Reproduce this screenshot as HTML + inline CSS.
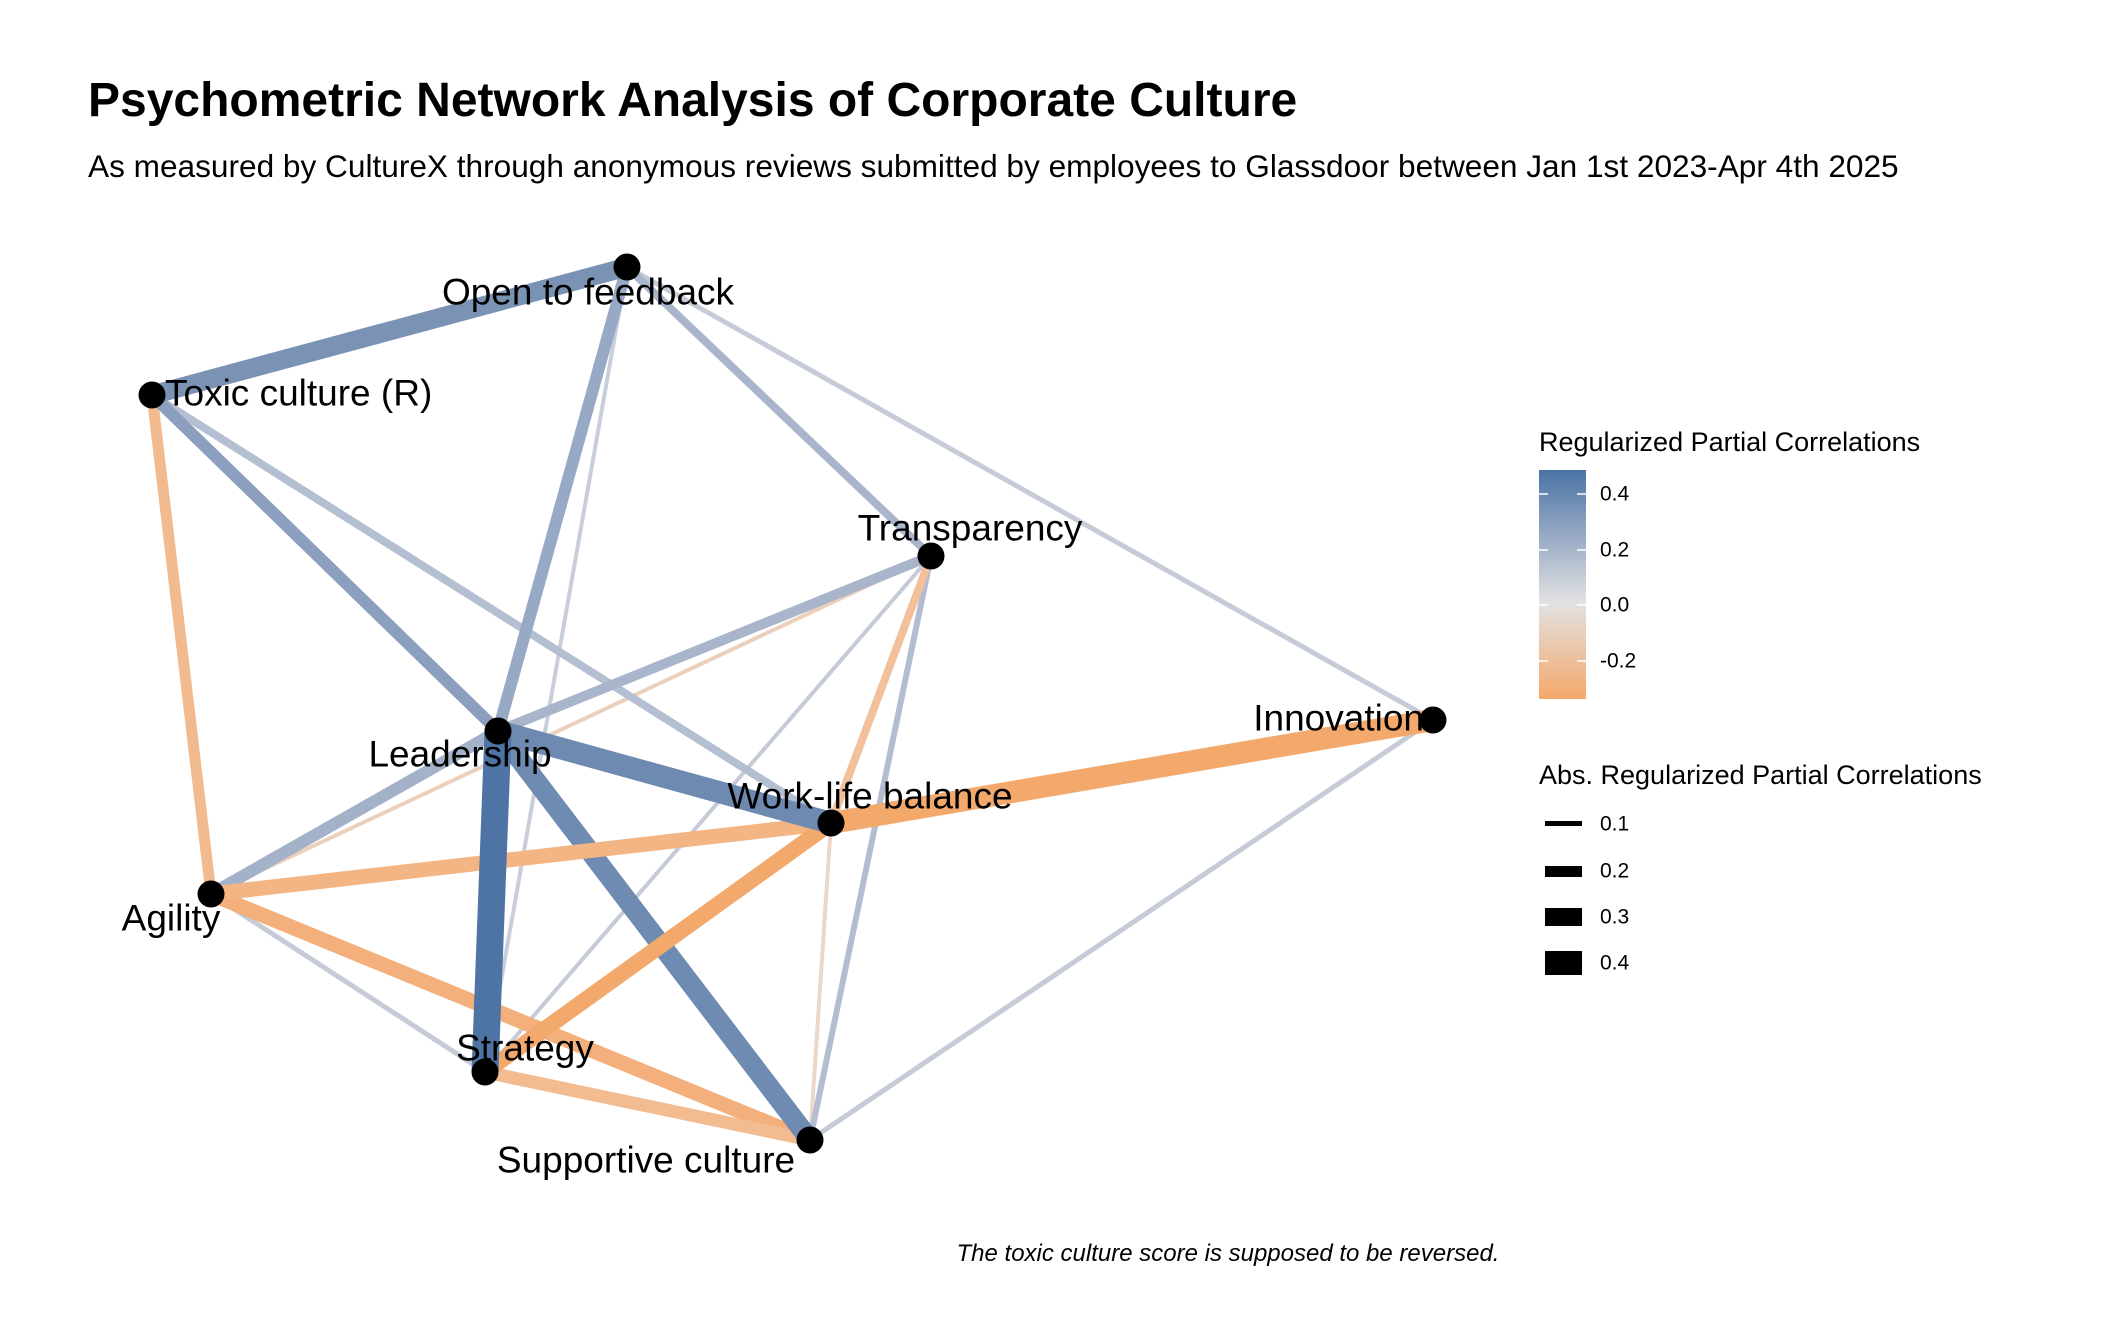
<!DOCTYPE html>
<html><head><meta charset="utf-8"><style>
html,body{margin:0;padding:0;background:#fff;}
svg{display:block;font-family:"Liberation Sans",Arial,sans-serif;}
</style></head><body>
<svg width="2112" height="1344" viewBox="0 0 2112 1344" xmlns="http://www.w3.org/2000/svg">
<defs>
<linearGradient id="cb" x1="0" y1="0" x2="0" y2="1">
<stop offset="0" stop-color="#4a74a5"/>
<stop offset="0.27" stop-color="#93a6c3"/>
<stop offset="0.58" stop-color="#e2e2e2"/>
<stop offset="1" stop-color="#f4a86a"/>
</linearGradient>
</defs>
<rect width="2112" height="1344" fill="#fff"/>
<text x="88" y="116" font-size="48" font-weight="bold" fill="#000">Psychometric Network Analysis of Corporate Culture</text>
<text x="88" y="177" font-size="31.6" fill="#000">As measured by CultureX through anonymous reviews submitted by employees to Glassdoor between Jan 1st 2023-Apr 4th 2025</text>

<g stroke-linecap="butt" fill="none">
<line x1="627" y1="267" x2="1433" y2="720" stroke="#c5cbd7" stroke-width="5"/>
<line x1="1433" y1="720" x2="810" y2="1140" stroke="#c5cbd7" stroke-width="5"/>
<line x1="627" y1="267" x2="485" y2="1072" stroke="#c8cfda" stroke-width="4"/>
<line x1="931" y1="556" x2="485" y2="1072" stroke="#c5cbd7" stroke-width="4"/>
<line x1="211" y1="894" x2="485" y2="1072" stroke="#c5cbd7" stroke-width="5"/>
<line x1="831" y1="823" x2="810" y2="1140" stroke="#ecd6c7" stroke-width="4"/>
<line x1="931" y1="556" x2="211" y2="894" stroke="#ecd0bc" stroke-width="4"/>
<line x1="627" y1="267" x2="931" y2="556" stroke="#a9b5cb" stroke-width="8"/>
<line x1="152" y1="395" x2="831" y2="823" stroke="#b4bfd1" stroke-width="8"/>
<line x1="931" y1="556" x2="810" y2="1140" stroke="#b3bdd0" stroke-width="6"/>
<line x1="152" y1="395" x2="211" y2="894" stroke="#f2bb8f" stroke-width="11"/>
<line x1="931" y1="556" x2="831" y2="823" stroke="#f2c19c" stroke-width="8"/>
<line x1="931" y1="556" x2="498" y2="731" stroke="#a9b5cb" stroke-width="10"/>
<line x1="498" y1="731" x2="211" y2="894" stroke="#a3b1c9" stroke-width="12"/>
<line x1="152" y1="395" x2="498" y2="731" stroke="#8c9fbf" stroke-width="12"/>
<line x1="627" y1="267" x2="498" y2="731" stroke="#98a9c6" stroke-width="12"/>
<line x1="627" y1="267" x2="152" y2="395" stroke="#7a93b5" stroke-width="19"/>
<line x1="211" y1="894" x2="810" y2="1140" stroke="#f3b07c" stroke-width="15"/>
<line x1="485" y1="1072" x2="810" y2="1140" stroke="#f3bb90" stroke-width="13"/>
<line x1="498" y1="731" x2="810" y2="1140" stroke="#6f8bb1" stroke-width="20"/>
<line x1="211" y1="894" x2="831" y2="823" stroke="#f3b584" stroke-width="15"/>
<line x1="831" y1="823" x2="485" y2="1072" stroke="#f3a96c" stroke-width="16"/>
<line x1="498" y1="731" x2="831" y2="823" stroke="#6f8ab0" stroke-width="22"/>
<line x1="1433" y1="720" x2="831" y2="823" stroke="#f3a96c" stroke-width="22"/>
<line x1="498" y1="731" x2="485" y2="1072" stroke="#4d74a4" stroke-width="27"/>
</g>

<g fill="#000">
<circle cx="627" cy="267" r="13.5"/>
<circle cx="152" cy="395" r="13.5"/>
<circle cx="931" cy="556" r="13.5"/>
<circle cx="1433" cy="720" r="13.5"/>
<circle cx="498" cy="731" r="13.5"/>
<circle cx="831" cy="823" r="13.5"/>
<circle cx="211" cy="894" r="13.5"/>
<circle cx="485" cy="1072" r="13.5"/>
<circle cx="810" cy="1140" r="13.5"/>
</g>

<g font-size="37" fill="#000" dominant-baseline="central">
<text x="588" y="292" text-anchor="middle">Open to feedback</text>
<text x="165" y="393">Toxic culture (R)</text>
<text x="970" y="528" text-anchor="middle">Transparency</text>
<text x="1424" y="718" text-anchor="end">Innovation</text>
<text x="460" y="754" text-anchor="middle">Leadership</text>
<text x="870" y="796" text-anchor="middle">Work-life balance</text>
<text x="171" y="918" text-anchor="middle">Agility</text>
<text x="525" y="1048" text-anchor="middle">Strategy</text>
<text x="646" y="1160" text-anchor="middle">Supportive culture</text>
</g>

<text x="1539" y="451" font-size="27" fill="#000">Regularized Partial Correlations</text>
<rect x="1539" y="470" width="47" height="229" fill="url(#cb)"/>
<g stroke="#fff" stroke-width="1.5">
<line x1="1539" y1="494" x2="1548" y2="494"/><line x1="1577" y1="494" x2="1586" y2="494"/>
<line x1="1539" y1="550" x2="1548" y2="550"/><line x1="1577" y1="550" x2="1586" y2="550"/>
<line x1="1539" y1="605" x2="1548" y2="605"/><line x1="1577" y1="605" x2="1586" y2="605"/>
<line x1="1539" y1="661" x2="1548" y2="661"/><line x1="1577" y1="661" x2="1586" y2="661"/>
</g>
<g font-size="21" fill="#000" dominant-baseline="central">
<text x="1600" y="494">0.4</text>
<text x="1600" y="550">0.2</text>
<text x="1600" y="605">0.0</text>
<text x="1600" y="661">-0.2</text>
</g>
<text x="1539" y="784" font-size="27" fill="#000">Abs. Regularized Partial Correlations</text>
<g fill="#000">
<rect x="1545" y="821" width="37" height="5"/>
<rect x="1545" y="866" width="37" height="11"/>
<rect x="1545" y="908" width="37" height="18"/>
<rect x="1545" y="951" width="37" height="24"/>
</g>
<g font-size="21" fill="#000" dominant-baseline="central">
<text x="1600" y="824">0.1</text>
<text x="1600" y="871">0.2</text>
<text x="1600" y="917">0.3</text>
<text x="1600" y="963">0.4</text>
</g>

<text x="1228" y="1261" font-size="24" font-style="italic" text-anchor="middle" fill="#000">The toxic culture score is supposed to be reversed.</text>
</svg>
</body></html>
